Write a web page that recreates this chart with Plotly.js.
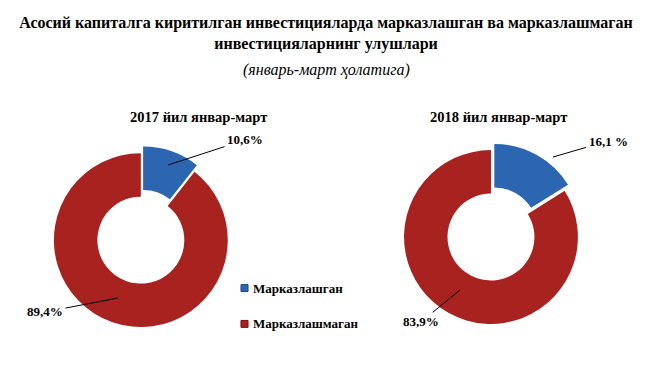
<!DOCTYPE html>
<html>
<head>
<meta charset="utf-8">
<script src="https://cdn.plot.ly/plotly-3.0.1.min.js"></script>
<style>html,body{margin:0;padding:0;background:#fff;}#chart{width:652px;height:366px;}</style>
</head>
<body>
<div id="chart"></div>
<script>
// ---- data ----
const categories = ['Марказлашган', 'Марказлашмаган'];
const values2017 = [10.6, 89.4];
const values2018 = [16.1, 83.9];
const textLabels2017 = ['10,6%', '89,4%'];
const textLabels2018 = ['16,1 %', '83,9%'];
const pieTitles = ['2017 йил январ-март', '2018 йил январ-март'];
const mainTitle = 'Асосий капиталга киритилган инвестицияларда марказлашган ва марказлашмаган<br>инвестицияларнинг улушлари';
const subTitle = '(январь-март ҳолатига)';
const sliceColors = ['#2c66b0', '#a82220'];
const sliceBorders = ['#1b4a85', '#7a1010'];

const serif = 'Liberation Serif';

function pieTrace(values, domain) {
  return {
    type: 'pie',
    labels: categories,
    values: values,
    sort: false,
    direction: 'clockwise',
    rotation: 0,
    hole: 0.5,
    pull: [0.08, 0],
    textinfo: 'none',
    showlegend: false,
    marker: { colors: sliceColors, line: { width: 0 } },
    domain: domain
  };
}

const data = [
  pieTrace(values2017, { x: [0.072, 0.360], y: [0.087, 0.601] }),
  pieTrace(values2018, { x: [0.609, 0.897], y: [0.096, 0.609] })
];

const labelFont = { family: serif, size: 13, color: '#000' };
function valueLabel(text, x, y, ax, ay) {
  return {
    text: '<b>' + text + '</b>', xref: 'paper', yref: 'paper', x: x, y: y,
    ax: ax, ay: ay, showarrow: true, arrowhead: 0, arrowwidth: 1, arrowcolor: '#000',
    standoff: 0, startstandoff: 1, font: labelFont
  };
}

function plainText(text, x, y, size, xanchor) {
  return { text: text, xref: 'paper', yref: 'paper', x: x, y: y,
    xanchor: xanchor || 'center', yanchor: 'middle', showarrow: false,
    font: { family: serif, size: size, color: '#000' } };
}

const annotations = [
  plainText('<i>' + subTitle + '</i>', 0.5, 0.809, 16),
  plainText('<b>' + pieTitles[0] + '</b>', 0.305, 0.680, 14.5),
  plainText('<b>' + pieTitles[1] + '</b>', 0.764, 0.680, 14.5),
  valueLabel(textLabels2017[0], 0.2577, 0.5492, 77, -25),
  valueLabel(textLabels2017[1], 0.1810, 0.1858, -73, 14),
  valueLabel(textLabels2018[0], 0.8482, 0.5710, 55, -16),
  valueLabel(textLabels2018[1], 0.7055, 0.2077, -39, 32)
];

// legend built from categories and colours
const legendY = [0.213, 0.115];
const shapes = [];
categories.forEach((c, i) => {
  annotations.push(plainText('<b>' + c + '</b>', 0.385, legendY[i], 13, 'left'));
  shapes.push({ type: 'rect', xref: 'paper', yref: 'paper', x0: 0.3696, x1: 0.3804,
    y0: legendY[i] - 0.0095, y1: legendY[i] + 0.0095,
    fillcolor: sliceColors[i], line: { color: sliceBorders[i], width: 1 } });
});

const layout = {
  width: 652, height: 366,
  margin: { l: 0, r: 0, t: 0, b: 0 },
  paper_bgcolor: '#fff',
  title: { text: '<b>' + mainTitle + '</b>', x: 0.5, xanchor: 'center', xref: 'paper',
    y: 1 - 28 / 366, yanchor: 'middle', yref: 'container',
    font: { family: serif, size: 16, color: '#000' } },
  annotations: annotations,
  shapes: shapes,
  showlegend: false
};

Plotly.newPlot('chart', data, layout, { displayModeBar: false, staticPlot: true });
</script>
</body>
</html>
